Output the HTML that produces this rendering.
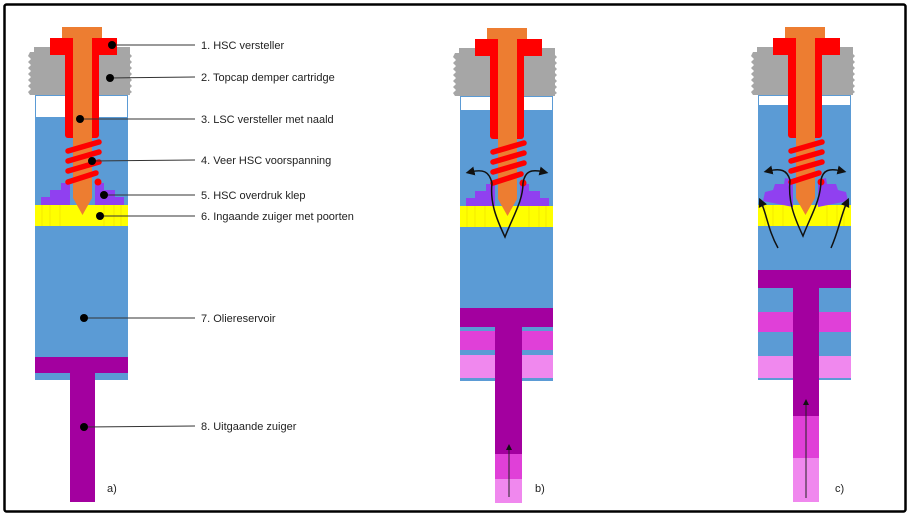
<!DOCTYPE html>
<html><head><meta charset="utf-8"><style>
html,body{margin:0;padding:0;background:#fff;}
svg{display:block;}
text{font-family:"Liberation Sans",sans-serif;font-size:11px;fill:#222;}
</style></head><body>
<svg width="910" height="516" viewBox="0 0 910 516" xmlns="http://www.w3.org/2000/svg">
<defs>
<g id="top">
  <path d="M30,52 L36,52 L36,95 L30,95 L28,92 L31,89 L28,86 L31,83 L28,80 L31,77 L28,74 L31,71 L28,68 L31,65 L28,62 L31,59 L28,56 Z" fill="#a6a6a6"/>
  <rect x="34" y="52" width="96" height="43" fill="#a6a6a6"/>
  <path d="M128,52 L132,56 L129,59 L132,62 L129,65 L132,68 L129,71 L132,74 L129,77 L132,80 L129,83 L132,86 L129,89 L132,92 L128,95 Z" fill="#a6a6a6"/>
  <rect x="34" y="47" width="16" height="6" fill="#a6a6a6"/>
  <rect x="114" y="47" width="16" height="6" fill="#a6a6a6"/>
  <rect x="50" y="38" width="67" height="17" fill="#ff0000"/>
  <rect x="65" y="38" width="34" height="100" rx="3" fill="#ff0000"/>
  <path d="M62,27 L102,27 L102,38 L92,38 L92,198 L82.5,215 L73,198 L73,38 L62,38 Z" fill="#ed7d31"/>
  <g stroke="#ff0000" stroke-width="5.5" stroke-linecap="round">
    <line x1="68" y1="151" x2="99" y2="142"/>
    <line x1="68" y1="161" x2="99" y2="152"/>
    <line x1="68" y1="171" x2="99" y2="162"/>
    <line x1="68" y1="182" x2="96" y2="173"/>
  </g>
  <circle cx="98" cy="182" r="3.5" fill="#ff0000"/>
</g>
<g id="valveFlat">
  <path d="M61,183 L70,183 L70,205 L41,205 L41,197 L50,197 L50,190 L61,190 Z" fill="#9040f0"/>
  <path d="M95,183 L104,183 L104,190 L115,190 L115,197 L124,197 L124,205 L95,205 Z" fill="#9040f0"/>
</g>
<g id="yellow">
  <rect x="35" y="205" width="93" height="21" fill="#ffff00"/>
  <g stroke="#eedd00" stroke-width="0.6">
    <line x1="42" y1="205" x2="42" y2="226"/><line x1="50" y1="205" x2="50" y2="226"/>
    <line x1="60" y1="205" x2="60" y2="226"/><line x1="104" y1="205" x2="104" y2="226"/>
    <line x1="114" y1="205" x2="114" y2="226"/><line x1="121" y1="205" x2="121" y2="226"/>
  </g>
</g>
<marker id="ah" markerWidth="6" markerHeight="6" refX="3" refY="3" orient="auto"><path d="M0,0 L6,3 L0,6 Z" fill="#111"/></marker>
</defs>

<rect x="4.5" y="4.5" width="901" height="507" fill="none" stroke="#000" stroke-width="2.5" rx="2"/>

<!-- a -->
<rect x="35" y="95" width="93" height="285" fill="#5b9bd5"/>
<rect x="36" y="96" width="91" height="21" fill="#fff"/>
<use href="#yellow"/>
<use href="#valveFlat"/>
<use href="#top"/>
<rect x="35" y="357" width="93" height="16" fill="#a3009f"/>
<rect x="70" y="357" width="25" height="145" fill="#a3009f"/>

<g stroke="#333" stroke-width="1">
  <line x1="112" y1="45" x2="195" y2="45"/>
  <line x1="110" y1="78" x2="195" y2="77"/>
  <line x1="80" y1="119" x2="195" y2="119"/>
  <line x1="92" y1="161" x2="195" y2="160"/>
  <line x1="104" y1="195" x2="195" y2="195"/>
  <line x1="100" y1="216" x2="195" y2="216"/>
  <line x1="84" y1="318" x2="195" y2="318"/>
  <line x1="84" y1="427" x2="195" y2="426"/>
</g>
<g fill="#000">
  <circle cx="112" cy="45" r="4"/><circle cx="110" cy="78" r="4"/>
  <circle cx="80" cy="119" r="4"/><circle cx="92" cy="161" r="4"/>
  <circle cx="104" cy="195" r="4"/><circle cx="100" cy="216" r="4"/>
  <circle cx="84" cy="318" r="4"/><circle cx="84" cy="427" r="4"/>
</g>
<text x="201" y="49">1. HSC versteller</text>
<text x="201" y="81">2. Topcap demper cartridge</text>
<text x="201" y="123">3. LSC versteller met naald</text>
<text x="201" y="164">4. Veer HSC voorspanning</text>
<text x="201" y="199">5. HSC overdruk klep</text>
<text x="201" y="220">6. Ingaande zuiger met poorten</text>
<text x="201" y="322">7. Oliereservoir</text>
<text x="201" y="430">8. Uitgaande zuiger</text>
<text x="107" y="492">a)</text>

<!-- b -->
<g transform="translate(425,1)">
  <rect x="35" y="95" width="93" height="285" fill="#5b9bd5"/>
  <rect x="36" y="96" width="91" height="13" fill="#fff"/>
  <use href="#yellow"/>
  <use href="#valveFlat"/>
  <use href="#top"/>
  <rect x="35" y="307" width="93" height="19" fill="#a3009f"/>
  <rect x="35" y="330" width="93" height="19" fill="#e040d8"/>
  <rect x="35" y="354" width="93" height="23" fill="#f088ee"/>
  <rect x="70" y="307" width="27" height="146" fill="#a3009f"/>
  <rect x="70" y="453" width="27" height="25" fill="#e040d8"/>
  <rect x="70" y="478" width="27" height="24" fill="#f088ee"/>
  <line x1="84" y1="496" x2="84" y2="446" stroke="#222" stroke-width="1" marker-end="url(#ah)"/>
  <g fill="none" stroke="#111" stroke-width="1.5">
    <path d="M67,182 C64,170 58,168 45,171" marker-end="url(#ah)"/>
    <path d="M98,182 C100,170 106,168 119,171" marker-end="url(#ah)"/>
    <path d="M67,182 C65,200 70,215 80,236 C88,215 98,200 98,182"/>
  </g>
  <text x="110" y="491">b)</text>
</g>

<!-- c -->
<g transform="translate(723,0)">
  <rect x="35" y="95" width="93" height="285" fill="#5b9bd5"/>
  <rect x="36" y="96" width="91" height="9" fill="#fff"/>
  <use href="#yellow"/>
  <g fill="#9040f0">
    <path d="M62,178 L70,180 L70,207 L40,201 L42,192 L50,190 L52,184 L61,184 Z"/>
    <path d="M95,180 L103,178 L104,184 L113,184 L115,190 L123,192 L125,201 L95,207 Z"/>
  </g>
  <use href="#top"/>
  <rect x="35" y="270" width="93" height="18" fill="#a3009f"/>
  <rect x="35" y="312" width="93" height="20" fill="#e040d8"/>
  <rect x="35" y="356" width="93" height="22" fill="#f088ee"/>
  <rect x="70" y="270" width="26" height="146" fill="#a3009f"/>
  <rect x="70" y="416" width="26" height="42" fill="#e040d8"/>
  <rect x="70" y="458" width="26" height="44" fill="#f088ee"/>
  <line x1="83" y1="498" x2="83" y2="402" stroke="#222" stroke-width="1" marker-end="url(#ah)"/>
  <g fill="none" stroke="#111" stroke-width="1.5">
    <path d="M67,180 C64,170 58,168 45,171" marker-end="url(#ah)"/>
    <path d="M98,180 C100,170 106,168 119,171" marker-end="url(#ah)"/>
    <path d="M67,180 C65,200 70,215 80,236 C88,215 98,200 98,180"/>
    <path d="M55,248 C45,230 44,215 38,202" marker-end="url(#ah)"/>
    <path d="M108,248 C116,230 118,215 124,202" marker-end="url(#ah)"/>
  </g>
  <text x="112" y="492">c)</text>
</g>
</svg>
</body></html>
